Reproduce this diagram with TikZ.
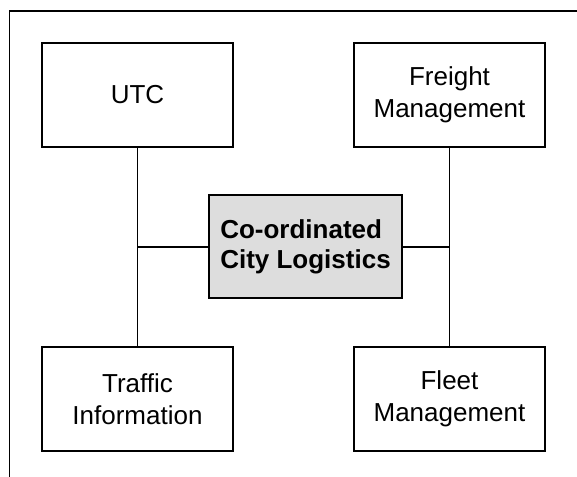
\documentclass[tikz,border=0pt]{standalone}
\usepackage{fontspec}
\setmainfont{Liberation Sans}
\definecolor{boxgray}{RGB}{221,221,221}
\begin{document}
\begin{tikzpicture}[x=1pt,y=-1pt,
  box/.style={draw=black, line width=1.8pt, minimum width=191.6pt, minimum height=104pt,
    inner sep=0pt, align=center, font=\fontsize{26}{32}\selectfont},
  hub/.style={box, fill=boxgray, minimum width=192.4pt, minimum height=103.3pt,
    align=left, font=\fontsize{26}{30.7}\selectfont\bfseries},
  link/.style={line width=1.8pt}]
\useasboundingbox (0,0) rectangle (577,476);
\clip (0,0) rectangle (577,476);
\fill[white] (0,0) rectangle (577,476);
\draw[line width=1.8pt] (590,10.7) -- (9.5,10.7) -- (9.5,490);
\node[box] (utc) at (137.5,94.7) {UTC};
\node[box] (freight) at (449.5,94.7) {Freight\\Management};
\node[box] (traffic) at (137.5,399.2) {Traffic\\Information};
\node[box] (fleet) at (449.5,399.2) {Fleet\\Management};
\node[hub] (hub) at (305.5,246.7) {Co-ordinated\\City Logistics};
\coordinate (lj) at (utc.south |- hub.west);
\coordinate (rj) at (freight.south |- hub.east);
\draw[link] (utc.south) -- (traffic.north);
\draw[link] (freight.south) -- (fleet.north);
\draw[link] (hub.west) -- (lj);
\draw[link] (hub.east) -- (rj);
\end{tikzpicture}
\end{document}
